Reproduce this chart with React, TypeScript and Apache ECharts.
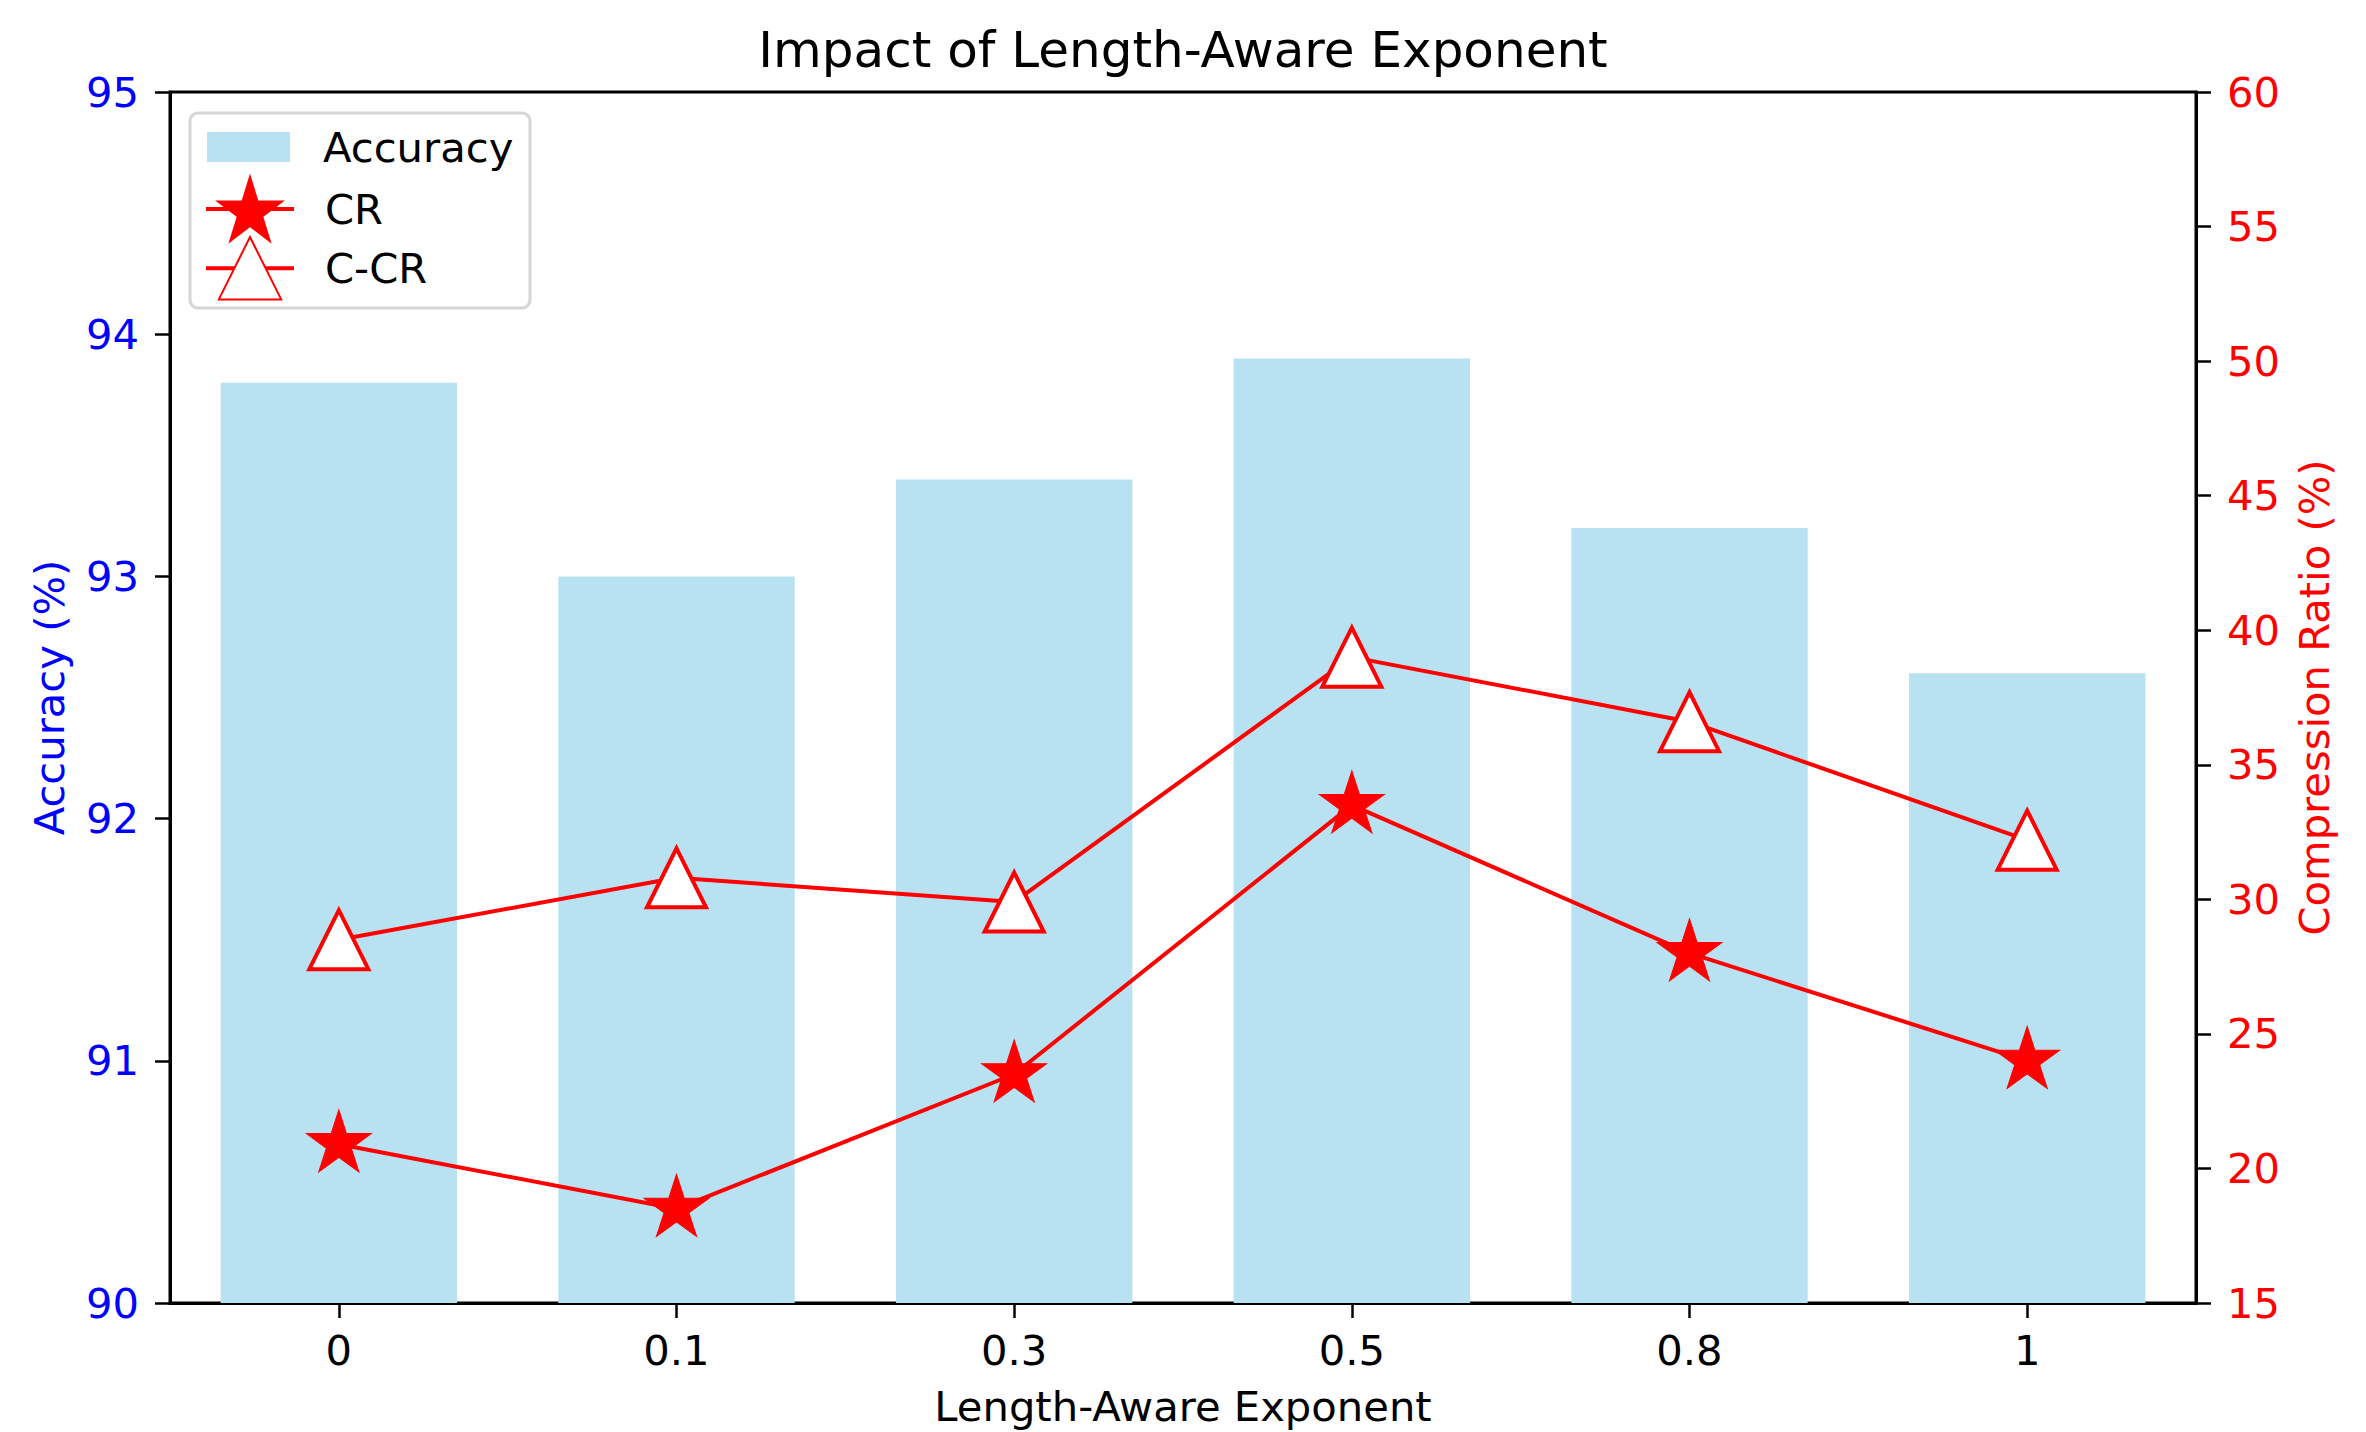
import React, { useEffect, useRef } from "react";
import * as echarts from "echarts";

const categories = ["0", "0.1", "0.3", "0.5", "0.8", "1"];
const accuracy = [93.8, 93.0, 93.4, 93.9, 93.2, 92.6];
const crValues = [20.9, 18.5, 23.5, 33.5, 28.0, 24.0];
const ccrValues = [28.5, 30.8, 29.9, 39.0, 36.6, 32.2];
const leftTicks = { min: 90, max: 95, interval: 1 };
const rightTicks = { min: 15, max: 60, interval: 5 };

const STAR =
  "path://M0,-100 L22.45,-30.9 L95.11,-30.9 L36.33,11.8 L58.78,80.9 L0,38.2 L-58.78,80.9 L-36.33,11.8 L-95.11,-30.9 L-22.45,-30.9 Z";

const FONT = "DejaVu Sans";
const FS = 41.7;

export default function App() {
  const ref = useRef<HTMLDivElement>(null);
  useEffect(() => {
    if (!ref.current) return;
    const chart = echarts.init(ref.current, undefined, { renderer: "svg" });
    const axisLineStyle = { color: "#000", width: 3 };
    chart.setOption({
      animation: false,
      backgroundColor: "#fff",
      textStyle: { fontFamily: FONT },
      title: {
        text: "Impact of Length-Aware Exponent",
        left: "center",
        top: 20,
        textStyle: { fontFamily: FONT, fontSize: 50, fontWeight: "normal", color: "#000" },
      },
      grid: {
        left: 170,
        right: 170,
        top: 92,
        bottom: 128,
        containLabel: false,
        show: true,
        borderColor: "#000",
        borderWidth: 3,
        backgroundColor: "transparent",
      },
      graphic: [
        {
          type: "rect",
          z: 10,
          shape: { x: 190, y: 113, width: 340, height: 195, r: 8 },
          style: { fill: "rgba(255,255,255,0.8)", stroke: "#d6d6d6", lineWidth: 3 },
        },
      ],
      legend: [
        {
          data: ["Accuracy"],
          orient: "vertical",
          left: 207,
          top: 126,
          padding: 0,
          itemWidth: 83,
          itemHeight: 30,
          icon: "rect",
          z: 20,
          textStyle: { fontFamily: FONT, fontSize: FS, color: "#000", padding: [0, 0, 0, 28] },
        },
        {
          data: ["CR"],
          orient: "vertical",
          left: 204,
          top: 176,
          padding: 0,
          itemWidth: 88,
          itemHeight: 80,
          z: 20,
          lineStyle: { width: 4, color: "#ff0000" },
          textStyle: { fontFamily: FONT, fontSize: FS, color: "#000", padding: [0, 0, 0, 26] },
        },
        {
          data: ["C-CR"],
          orient: "vertical",
          left: 204,
          top: 236,
          padding: 0,
          itemWidth: 88,
          itemHeight: 78,
          z: 20,
          lineStyle: { width: 4, color: "#ff0000" },
          textStyle: { fontFamily: FONT, fontSize: FS, color: "#000", padding: [0, 0, 0, 26] },
        },
      ],
      xAxis: {
        type: "category",
        data: categories,
        boundaryGap: true,
        name: "Length-Aware Exponent",
        nameLocation: "middle",
        nameGap: 82,
        nameTextStyle: { fontFamily: FONT, fontSize: FS, color: "#000" },
        axisLine: { show: true, lineStyle: axisLineStyle },
        axisTick: { show: true, alignWithLabel: true, length: 15, lineStyle: { color: "#000", width: 2.5 } },
        axisLabel: { fontFamily: FONT, fontSize: FS, color: "#000", margin: 26 },
        splitLine: { show: false },
      },
      yAxis: [
        {
          type: "value",
          position: "left",
          min: leftTicks.min,
          max: leftTicks.max,
          interval: leftTicks.interval,
          name: "Accuracy (%)",
          nameLocation: "middle",
          nameGap: 100,
          nameTextStyle: { fontFamily: FONT, fontSize: FS, color: "#0000ff" },
          axisLine: { show: true, lineStyle: axisLineStyle },
          axisTick: { show: true, length: 15, lineStyle: { color: "#000", width: 2.5 } },
          axisLabel: { fontFamily: FONT, fontSize: FS, color: "#0000ff", margin: 31 },
          splitLine: { show: false },
        },
        {
          type: "value",
          position: "right",
          min: rightTicks.min,
          max: rightTicks.max,
          interval: rightTicks.interval,
          name: "Compression Ratio (%)",
          nameLocation: "middle",
          nameGap: 97,
          nameTextStyle: { fontFamily: FONT, fontSize: FS, color: "#ff0000" },
          axisLine: { show: true, lineStyle: axisLineStyle },
          axisTick: { show: true, length: 15, lineStyle: { color: "#000", width: 2.5 } },
          axisLabel: { fontFamily: FONT, fontSize: FS, color: "#ff0000", margin: 31 },
          splitLine: { show: false },
        },
      ],
      series: [
        {
          name: "Accuracy",
          type: "bar",
          yAxisIndex: 0,
          data: accuracy,
          barWidth: "70%",
          itemStyle: { color: "#b8e1f1" },
          z: 2,
        },
        {
          name: "CR",
          type: "line",
          yAxisIndex: 1,
          data: crValues,
          symbol: STAR,
          symbolSize: [65, 62],
          symbolOffset: [0, -3.3],
          symbolKeepAspect: false,
          showAllSymbol: true,
          lineStyle: { color: "#ff0000", width: 4 },
          itemStyle: { color: "#ff0000", borderColor: "#ff0000", borderWidth: 1 },
          z: 5,
        },
        {
          name: "C-CR",
          type: "line",
          yAxisIndex: 1,
          data: ccrValues,
          symbol: "triangle",
          symbolSize: 59,
          showAllSymbol: true,
          lineStyle: { color: "#ff0000", width: 4 },
          itemStyle: { color: "#ffffff", borderColor: "#ff0000", borderWidth: 4 },
          z: 5,
        },
      ],
    });
    return () => chart.dispose();
  }, []);
  return (
    <div
      ref={ref}
      style={{ position: "absolute", left: 0, top: 0, width: "2366px", height: "1432px" }}
    />
  );
}
